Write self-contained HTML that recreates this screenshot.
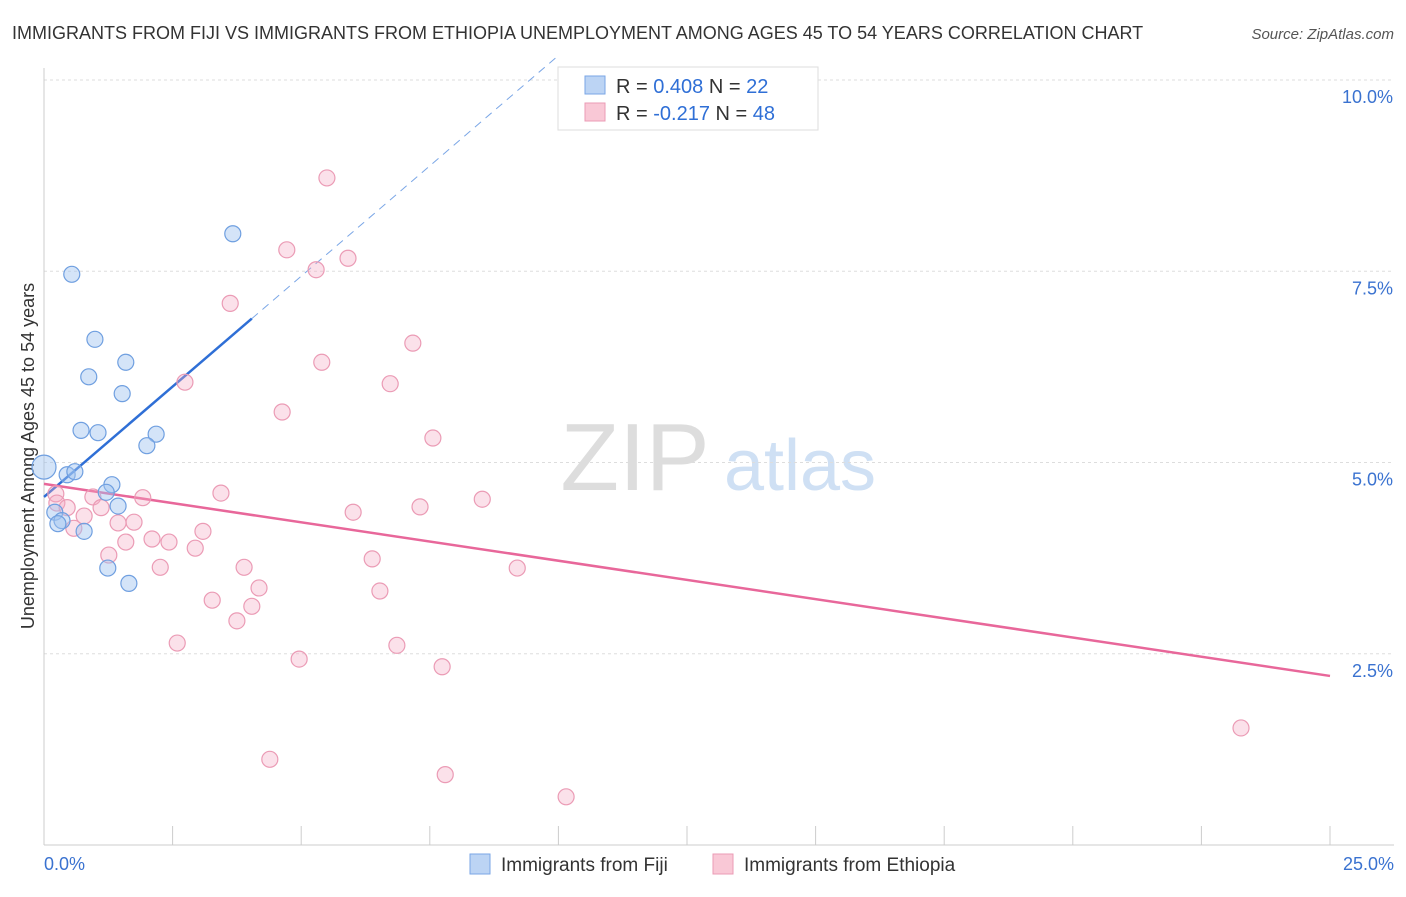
<!DOCTYPE html>
<html><head><meta charset="utf-8"><style>
body{margin:0;background:#fff;font-family:"Liberation Sans",sans-serif;}
svg text{font-family:"Liberation Sans",sans-serif;}
</style></head><body>
<svg id="c" width="1406" height="892" xmlns="http://www.w3.org/2000/svg">
<text x="12" y="39" font-size="18" fill="#333">IMMIGRANTS FROM FIJI VS IMMIGRANTS FROM ETHIOPIA UNEMPLOYMENT AMONG AGES 45 TO 54 YEARS CORRELATION CHART</text>
<text x="1394" y="39" font-size="15" fill="#555" font-style="italic" text-anchor="end">Source: ZipAtlas.com</text>
<text x="635" y="490" font-size="96" fill="#ddd" font-family="Liberation Serif" text-anchor="middle">ZIP</text>
<text x="800" y="490" font-size="72" fill="#cfe0f4" text-anchor="middle">atlas</text>
<text transform="translate(34,456) rotate(-90)" font-size="18" fill="#333" text-anchor="middle">Unemployment Among Ages 45 to 54 years</text>
<g id="grid"></g><g id="lines"></g><g id="pts"></g>
<g>
<rect x="558" y="67" width="260" height="63" fill="#fff" stroke="#ddd"/>
<rect x="585" y="76" width="20" height="18" fill="#bcd4f4" stroke="#7aa6e6"/>
<rect x="585" y="103" width="20" height="18" fill="#f9c8d6" stroke="#eb9bb5"/>
<text x="616" y="93" font-size="20" fill="#333">R = <tspan fill="#2f6fd6">0.408</tspan>   N = <tspan fill="#2f6fd6">22</tspan></text>
<text x="616" y="120" font-size="20" fill="#333">R = <tspan fill="#2f6fd6">-0.217</tspan>   N = <tspan fill="#2f6fd6">48</tspan></text>
</g>
<g>
<rect x="470" y="854" width="20" height="20" fill="#bcd4f4" stroke="#7aa6e6"/>
<text x="501" y="871" font-size="19" fill="#333">Immigrants from Fiji</text>
<rect x="713" y="854" width="20" height="20" fill="#f9c8d6" stroke="#eb9bb5"/>
<text x="744" y="871" font-size="19" fill="#333">Immigrants from Ethiopia</text>
</g>
</svg>
<script>
const yTicks=[2.5,5.0,7.5,10.0];
const xTickLabels=["0.0%","25.0%"];
const fijiX=[0,0.45,0.60,0.54,0.99,0.87,1.59,1.52,0.72,1.05,2.18,2.00,1.32,1.21,1.44,0.21,0.35,0.78,0.27,1.24,1.65,3.67];
const fijiY=[4.94,4.84,4.88,7.46,6.61,6.12,6.31,5.90,5.42,5.39,5.37,5.22,4.71,4.61,4.43,4.35,4.24,4.10,4.20,3.62,3.42,7.99];
const ethX=[5.50,4.72,5.91,5.29,3.62,5.40,7.17,2.74,6.73,4.63,7.56,3.44,8.52,7.31,6.01,0.23,0.25,0.45,0.95,1.92,1.11,0.78,1.44,1.75,0.58,3.09,2.10,2.43,1.59,1.26,2.94,2.26,3.89,6.38,9.20,4.18,6.53,3.27,4.04,3.75,2.59,6.86,4.96,7.74,4.39,7.80,10.15,23.27];
const ethY=[8.72,7.78,7.67,7.52,7.08,6.31,6.56,6.05,6.03,5.66,5.32,4.60,4.52,4.42,4.35,4.59,4.47,4.41,4.55,4.54,4.41,4.30,4.21,4.22,4.14,4.10,4.00,3.96,3.96,3.79,3.88,3.63,3.63,3.74,3.62,3.36,3.32,3.20,3.12,2.93,2.64,2.61,2.43,2.33,1.12,0.92,0.63,1.53];
const fijiTrend=[4.55,0.577];
const ethTrend=[4.72,-0.1004];
const NS="http://www.w3.org/2000/svg";
const sx=v=>44+v/25*1286, sy=v=>845-v*76.5;
function mk(p,tag,a){const e=document.createElementNS(NS,tag);for(const k in a)e.setAttribute(k,a[k]);p.appendChild(e);return e;}
const g=document.getElementById('grid');
yTicks.forEach(t=>{
 const l=mk(g,'line',{x1:44,x2:1394,y1:sy(t),y2:sy(t),stroke:'#ddd','stroke-dasharray':'3,3'});
 
 
 const tx=mk(g,'text',{x:1393,y:sy(t)+23,'font-size':18,fill:'#3a72d0','text-anchor':'end'});tx.textContent=t.toFixed(1)+'%';
 
 
});
mk(g,'line',{x1:44,x2:44,y1:68,y2:845,stroke:'#ccc'});
mk(g,'line',{x1:44,x2:1394,y1:845,y2:845,stroke:'#ccc'});
for(let i=0;i<=10;i++){const x=sx(i*2.5);const t=mk(g,'line',{x1:x,x2:x,y1:826,y2:845,stroke:'#ccc'});
 
 }
[[0,'start',44],[25,'end',1394]].forEach((d,i)=>{const t=mk(g,'text',{x:d[2],y:870,'font-size':18,fill:'#3a72d0','text-anchor':d[1]});t.textContent=xTickLabels[i];
 
 });
const L=document.getElementById('lines');
const fx1=4.04, fx2=(10-fijiTrend[0])/fijiTrend[1]+0.5;
let e=mk(L,'line',{x1:sx(0),y1:sy(fijiTrend[0]),x2:sx(fx1),y2:sy(fijiTrend[0]+fijiTrend[1]*fx1),stroke:'#2f6fd6','stroke-width':2.5});


e=mk(L,'line',{x1:sx(fx1),y1:sy(fijiTrend[0]+fijiTrend[1]*fx1),x2:sx(fx2),y2:sy(fijiTrend[0]+fijiTrend[1]*fx2),stroke:'#7aa6e6','stroke-width':1,'stroke-dasharray':'8,6'});


e=mk(L,'line',{x1:sx(0),y1:sy(ethTrend[0]),x2:sx(25),y2:sy(ethTrend[0]+ethTrend[1]*25),stroke:'#e8679a','stroke-width':2.5});


const P=document.getElementById('pts');
ethX.forEach((x,i)=>{const c=mk(P,'circle',{cx:sx(x),cy:sy(ethY[i]),r:8,fill:'rgba(244,170,196,0.35)',stroke:'#eb9bb5','stroke-width':1.2});
 
 });
fijiX.forEach((x,i)=>{const c=mk(P,'circle',{cx:sx(x),cy:sy(fijiY[i]),r:i==0?12:8,fill:'rgba(160,195,240,0.45)',stroke:'#6f9fe0','stroke-width':1.2});
 
 });
</script>
</body></html>
